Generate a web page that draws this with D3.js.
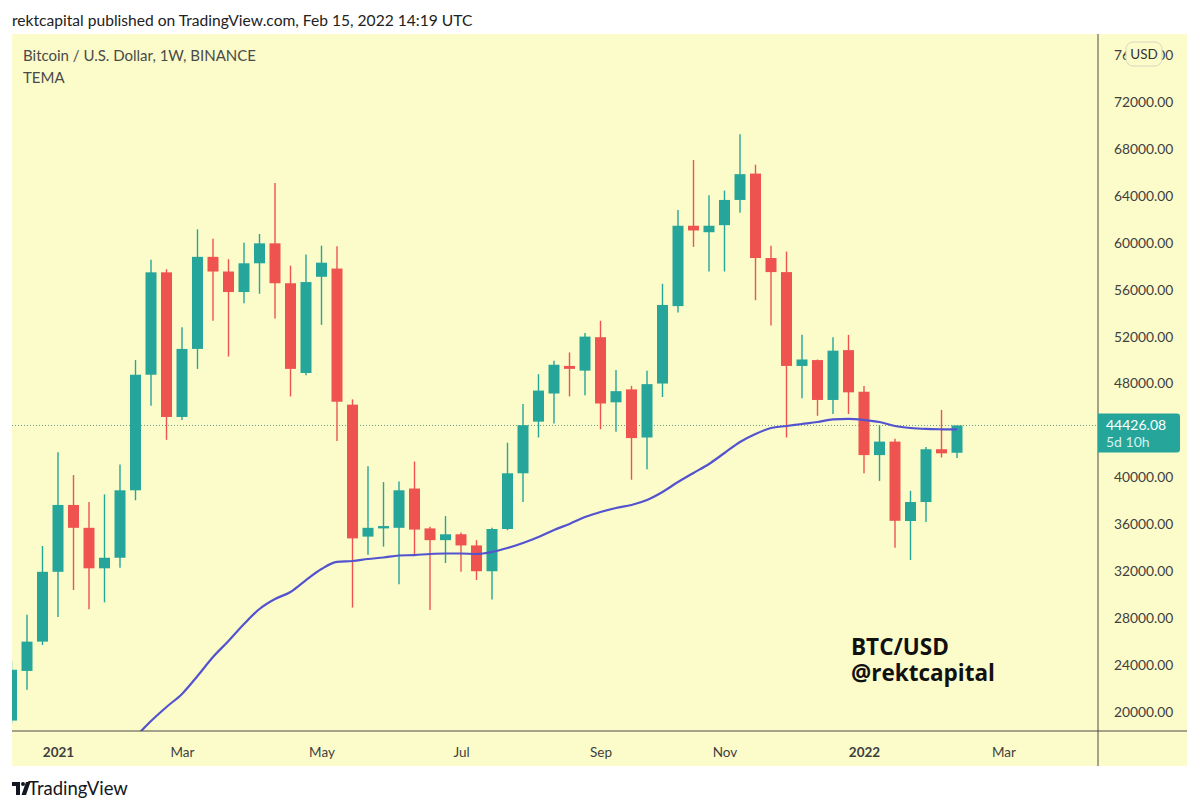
<html>
<head>
  <meta charset="UTF-8">
  <title>BTC/USD 1W</title>
  <script src="https://cdn.jsdelivr.net/npm/d3@7"></script>
  <style>
    body { margin: 0; background: #ffffff; }
    text { font-family: Lato, "Noto Sans", sans-serif; }
  </style>
</head>
<body>
<svg width="1200" height="811"></svg>
<script>
// weekly candles, Binance BTCUSDT, from week of 14 Dec 2020
var open  = [19270, 23500, 26000, 31950, 37650, 35700, 32250, 33150, 38900, 48750,
             57480, 45150, 50950, 58800, 57550, 55800, 58250, 59950, 56550, 48900,
             57100, 57800, 46200, 34950, 35650, 35700, 39050, 35650, 34650, 35150,
             34200, 32000, 35600, 40350, 44750, 47150, 49500, 49100, 51950, 46400,
             47500, 43400, 48000, 54600, 61450, 60900, 61500, 63650, 65900, 58700,
             57500, 49500, 50000, 46600, 50850, 47300, 41900, 43050, 36280, 37900,
             42400, 42100];
var high  = [24300, 28300, 34150, 42150, 40200, 37900, 38550, 41100, 50000, 58550,
             57750, 52800, 61150, 60350, 58600, 60000, 60750, 65100, 58050, 59000,
             59750, 59700, 46650, 40950, 39600, 39650, 41350, 35800, 36700, 35300,
             34650, 35700, 42950, 46250, 48800, 49950, 50650, 52300, 53350, 49150,
             47800, 49100, 56500, 62800, 67050, 64050, 64450, 69250, 66650, 59750,
             59250, 52150, 50050, 51950, 52150, 47800, 44450, 43300, 38850, 42600,
             45750, 44426.08];
var low   = [19000, 21900, 25700, 28100, 30400, 28750, 29350, 32300, 38050, 46100,
             43200, 44900, 49250, 53350, 50300, 54850, 55650, 53550, 46900, 48700,
             53000, 43100, 28900, 33400, 34100, 30900, 33400, 28700, 32700, 31950,
             31250, 29600, 35500, 37900, 43400, 44600, 46900, 47000, 44100, 43900,
             39800, 40700, 46850, 54050, 59650, 57550, 57550, 62550, 55100, 52950,
             43400, 46750, 45250, 45400, 45400, 40350, 39700, 34000, 32950, 36200,
             41700, 41650];
var close = [23600, 26000, 31950, 37650, 35700, 32250, 33150, 38900, 48750, 57480,
             45150, 50950, 58800, 57550, 55800, 58250, 59950, 56550, 49250, 56650,
             58300, 46450, 34800, 35700, 35850, 38900, 35550, 34650, 35150, 34200,
             32000, 35600, 40350, 44450, 47400, 49600, 49250, 52000, 46300, 47350,
             43350, 47950, 54700, 61450, 61050, 61450, 63650, 65850, 58700, 57500,
             49500, 50050, 46600, 50800, 47250, 41900, 43050, 36300, 37900, 42400,
             42050, 44426.08];
// TEMA line, starts at week index 8
var temaStart = 8;
var tema = [17870, 19230, 20430, 21540, 23070, 24690, 26050, 27500, 28780, 29630,
            30230, 31250, 32190, 32790, 32870, 33040, 33170, 33340, 33380, 33470,
            33510, 33510, 33470, 33640, 33980, 34410, 34920, 35520, 36030, 36620,
            37050, 37390, 37650, 38070, 38750, 39610, 40380, 41140, 42080, 43020,
            43700, 44210, 44380, 44550, 44720, 44940, 44980, 44890, 44720, 44380,
            44210, 44130, 44100, 44090];
var priceTicks = [20000, 24000, 28000, 32000, 36000, 40000, 48000, 52000, 56000,
                  60000, 64000, 68000, 72000, 76000];
var timeTickDates = ["2021-01-04", "2021-03-01", "2021-05-03", "2021-07-05",
                     "2021-09-06", "2021-11-01", "2022-01-03", "2022-03-07"];
var timeTickLabels = ["2021", "Mar", "May", "Jul", "Sep", "Nov", "2022", "Mar"];
var lastPrice = 44426.08;

var svg = d3.select("svg");
var paneLeft = 12, paneTop = 34, paneRight = 1098, paneBottom = 731;
var boxRight = 1187, boxBottom = 766;
var up = "#26a69a", down = "#ef5350";

var parse = d3.utcParse("%Y-%m-%d");
var weeks = d3.utcMonday.range(parse("2020-12-14"), parse("2022-02-15"));

var x = d3.scaleUtc()
    .domain([parse("2020-12-14"), parse("2022-02-14")])
    .range([11.5, 957]);
var y = d3.scaleLinear()
    .domain([20000, 72000])
    .range([712, 102]);

// background
svg.append("rect").attr("x", paneLeft).attr("y", paneTop)
    .attr("width", boxRight - paneLeft).attr("height", boxBottom - paneTop)
    .attr("fill", "#fbfcc9");

svg.append("text").attr("x", 12).attr("y", 26)
    .attr("font-size", 15.6).attr("fill", "#222")
    .text("rektcapital published on TradingView.com, Feb 15, 2022 14:19 UTC");

svg.append("defs").append("clipPath").attr("id", "pane")
  .append("rect").attr("x", paneLeft).attr("y", paneTop)
    .attr("width", paneRight - paneLeft).attr("height", paneBottom - paneTop);

var plot = svg.append("g").attr("clip-path", "url(#pane)");

// last price dotted line
plot.append("line")
    .attr("x1", paneLeft).attr("x2", paneRight)
    .attr("y1", y(lastPrice)).attr("y2", y(lastPrice))
    .attr("stroke", "#5f9e8e").attr("stroke-width", 1)
    .attr("stroke-dasharray", "1,2");

var candles = weeks.map(function(d, i) {
  return {date: d, o: open[i], h: high[i], l: low[i], c: close[i]};
});

plot.selectAll(".wick").data(candles).enter().append("line")
    .attr("x1", function(d) { return x(d.date); })
    .attr("x2", function(d) { return x(d.date); })
    .attr("y1", function(d) { return y(d.h); })
    .attr("y2", function(d) { return y(d.l); })
    .attr("stroke", function(d) { return d.c >= d.o ? up : down; })
    .attr("stroke-width", 1.4);

var bodyW = 11;
plot.selectAll(".body").data(candles).enter().append("rect")
    .attr("x", function(d) { return x(d.date) - bodyW / 2; })
    .attr("y", function(d) { return y(Math.max(d.o, d.c)); })
    .attr("width", bodyW)
    .attr("height", function(d) { return Math.max(1.5, Math.abs(y(d.o) - y(d.c))); })
    .attr("fill", function(d) { return d.c >= d.o ? up : down; });

var line = d3.line()
    .x(function(d, i) { return x(weeks[i + temaStart]); })
    .y(function(d) { return y(d); })
    .curve(d3.curveMonotoneX);

plot.append("path").datum(tema)
    .attr("d", line)
    .attr("fill", "none")
    .attr("stroke", "#5353d0")
    .attr("stroke-width", 2.2);

// axes lines
svg.append("line").attr("x1", paneRight).attr("x2", paneRight)
    .attr("y1", paneTop).attr("y2", boxBottom)
    .attr("stroke", "#4a4a4a").attr("stroke-width", 1);
svg.append("line").attr("x1", paneLeft).attr("x2", boxRight)
    .attr("y1", paneBottom).attr("y2", paneBottom)
    .attr("stroke", "#4a4a4a").attr("stroke-width", 1);

// price axis
var yAxis = d3.axisRight(y).tickValues(priceTicks).tickSize(0).tickPadding(16)
    .tickFormat(d3.format(".2f"));
var yg = svg.append("g").attr("transform", "translate(" + paneRight + ",0)").call(yAxis);
yg.select(".domain").remove();
yg.selectAll("text").attr("font-size", 13.8).attr("fill", "#3f3f3f")
    .style("font-family", "Lato, sans-serif");

// time axis
var xAxis = d3.axisBottom(x).tickValues(timeTickDates.map(parse)).tickSize(0).tickPadding(16)
    .tickFormat(function(d, i) { return timeTickLabels[i]; });
var xg = svg.append("g").attr("transform", "translate(0," + paneBottom + ")").call(xAxis);
xg.select(".domain").remove();
xg.selectAll("text").attr("font-size", 13.5).attr("fill", "#3f3f3f")
    .style("font-family", "Lato, sans-serif")
    .attr("font-weight", function(d, i) { return /^\d+$/.test(timeTickLabels[i]) ? "bold" : "normal"; });

// USD badge (sits over the top price label, as in TradingView)
svg.append("rect").attr("x", 1126).attr("y", 42).attr("width", 36).attr("height", 24)
    .attr("rx", 7).attr("fill", "#fbfcc9").attr("stroke", "#d8d8c0");
svg.append("text").attr("x", 1144).attr("y", 59).attr("text-anchor", "middle")
    .attr("font-size", 13.5).attr("fill", "#333").text("USD");

// last price label
svg.append("path")
    .attr("d", "M" + paneRight + "," + (y(lastPrice) - 12) + "h79q3,0 3,3v33q0,3 -3,3h-79z")
    .attr("fill", up);
svg.append("text").attr("x", 1106).attr("y", y(lastPrice) + 5)
    .attr("font-size", 14).attr("fill", "#ffffff").text(d3.format(".2f")(lastPrice));
svg.append("text").attr("x", 1106).attr("y", y(lastPrice) + 22)
    .attr("font-size", 14).attr("fill", "#d7f0ec").text("5d 10h");

// legend
svg.append("text").attr("x", 23).attr("y", 61)
    .attr("font-size", 15).attr("fill", "#4a4a4a").text("Bitcoin / U.S. Dollar, 1W, BINANCE");
svg.append("text").attr("x", 23).attr("y", 83)
    .attr("font-size", 15).attr("fill", "#4a4a4a").text("TEMA");

// watermark
svg.append("text").attr("x", 851).attr("y", 655)
    .attr("font-size", 22.5).attr("font-weight", "bold").attr("fill", "#111")
    .style("font-family", "'Open Sans', sans-serif").text("BTC/USD");
svg.append("text").attr("x", 851).attr("y", 681)
    .attr("font-size", 22.5).attr("font-weight", "bold").attr("fill", "#111")
    .style("font-family", "'Open Sans', sans-serif").text("@rektcapital");

// TradingView footer
var logo = svg.append("g").attr("transform", "translate(12,782)").attr("fill", "#131722");
logo.append("path").attr("d", "M0,0h8v13h-4v-9h-4z");
logo.append("circle").attr("cx", 11).attr("cy", 2).attr("r", 2);
logo.append("path").attr("d", "M14,0h4.5l-4.5,13h-4.5z");
svg.append("text").attr("x", 28).attr("y", 795)
    .attr("font-size", 18.5).attr("fill", "#131722").text("TradingView");
</script>
</body>
</html>
